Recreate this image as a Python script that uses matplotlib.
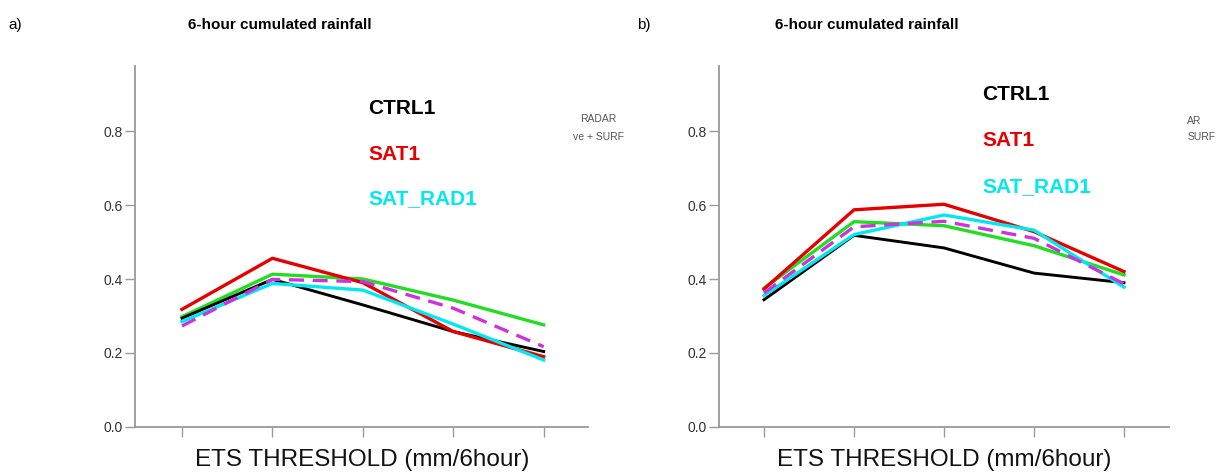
import matplotlib
matplotlib.use("Agg")
import matplotlib.pyplot as plt

plt.rcParams['font.family'] = ['Liberation Sans', 'DejaVu Sans']

# ---- data ----
thresholds = [1, 2, 3, 4, 5]          # threshold index (tick labels not visible)
y_ticks = [0.0, 0.2, 0.4, 0.6, 0.8]
y_tick_labels = ["0.0", "0.2", "0.4", "0.6", "0.8"]

series_names = ["CTRL1", "SAT1", "SAT_RAD1", "RADAR", "conv + SURF"]

ctrl1_a = [0.294, 0.399, 0.330, 0.258, 0.204]
sat1_a = [0.318, 0.456, 0.390, 0.258, 0.190]
sat_rad1_a = [0.285, 0.388, 0.370, 0.278, 0.181]
green_a = [0.298, 0.413, 0.400, 0.343, 0.276]
magenta_a = [0.273, 0.399, 0.393, 0.321, 0.217]

ctrl1_b = [0.344, 0.518, 0.484, 0.416, 0.390]
sat1_b = [0.373, 0.587, 0.602, 0.528, 0.420]
sat_rad1_b = [0.355, 0.520, 0.573, 0.532, 0.378]
green_b = [0.375, 0.555, 0.544, 0.490, 0.411]
magenta_b = [0.362, 0.541, 0.556, 0.510, 0.387]

title_text = "6-hour cumulated rainfall"
xlabel_text = "ETS THRESHOLD (mm/6hour)"

W, H = 1216, 472
fig = plt.figure(figsize=(W / 100, H / 100), dpi=100)


def fx(px):
    return px / W


def fy(py):
    return 1 - py / H


COL_BLACK = "#000000"
COL_RED = "#e60000"
COL_CYAN = "#00e8f0"
COL_GREEN = "#22dd22"
COL_MAG = "#cc33dd"
SPINE = "#9a9a9a"


def make_panel(left, right, data, xlim):
    ax = fig.add_axes([fx(left), fy(427), fx(right - left), (427 - 66) / H])
    ctrl, sat, satrad, grn, mag = data
    ax.plot(thresholds, grn, color=COL_GREEN, lw=2.4)
    ax.plot(thresholds, ctrl, color=COL_BLACK, lw=2.1)
    ax.plot(thresholds, sat, color=COL_RED, lw=2.4)
    ax.plot(thresholds, satrad, color=COL_CYAN, lw=2.4)
    ax.plot(thresholds, mag, color=COL_MAG, lw=2.4, dashes=(4.5, 2.6))
    ax.set_xlim(*xlim)
    ax.set_ylim(0, (427 - 66) / 370)
    for s in ("top", "right"):
        ax.spines[s].set_visible(False)
    for s in ("left", "bottom"):
        ax.spines[s].set_color(SPINE)
        ax.spines[s].set_linewidth(1.3)
    ax.set_yticks(y_ticks)
    ax.set_yticklabels(y_tick_labels)
    ax.set_xticks(thresholds)
    ax.set_xticklabels([])
    ax.tick_params(axis='y', direction='out', length=7, width=1.0, color=SPINE,
                   labelsize=10, labelcolor="#333333", pad=1.5)
    ax.tick_params(axis='x', direction='out', length=7, width=1.0, color=SPINE, pad=2)
    return ax


ax_a = make_panel(135, 588, [ctrl1_a, sat1_a, sat_rad1_a, green_a, magenta_a], (0.48, 5.49))
ax_b = make_panel(719, 1169, [ctrl1_b, sat1_b, sat_rad1_b, green_b, magenta_b], (0.5, 5.5))

# panel letters and titles
fig.text(fx(8), fy(25), "a)", fontsize=11, va='center', ha='left')
fig.text(fx(188), fy(25), title_text, fontsize=11, fontweight='bold', va='center', ha='left')
fig.text(fx(637), fy(25), "b)", fontsize=11, va='center', ha='left')
fig.text(fx(775), fy(25), title_text, fontsize=11, fontweight='bold', va='center', ha='left')

# series labels
for (x0, ys) in ((368, (108, 154, 199)), (982, (95, 140.5, 186.5))):
    for name, col, yy in zip(series_names[:3], (COL_BLACK, COL_RED, COL_CYAN), ys):
        fig.text(fx(x0), fy(yy), name, fontsize=15, fontweight='bold', color=col,
                 va='center', ha='left')

# remnants of the original legend (cropped)
fig.text(fx(580), fy(119), "RADAR", fontsize=7.5, color="#555555", va='center', ha='left')
fig.text(fx(573), fy(137), "ve + SURF", fontsize=7.5, color="#555555", va='center', ha='left')
fig.text(fx(1187), fy(121), "AR", fontsize=7.5, color="#555555", va='center', ha='left')
fig.text(fx(1188), fy(137), "SURF", fontsize=7.5, color="#555555", va='center', ha='left')

# x labels
fig.text(fx(362), fy(466), xlabel_text, fontsize=17.5, ha='center', va='baseline', color="#111111")
fig.text(fx(944), fy(466), xlabel_text, fontsize=17.5, ha='center', va='baseline', color="#111111")

fig.savefig("out.png", dpi=100)
